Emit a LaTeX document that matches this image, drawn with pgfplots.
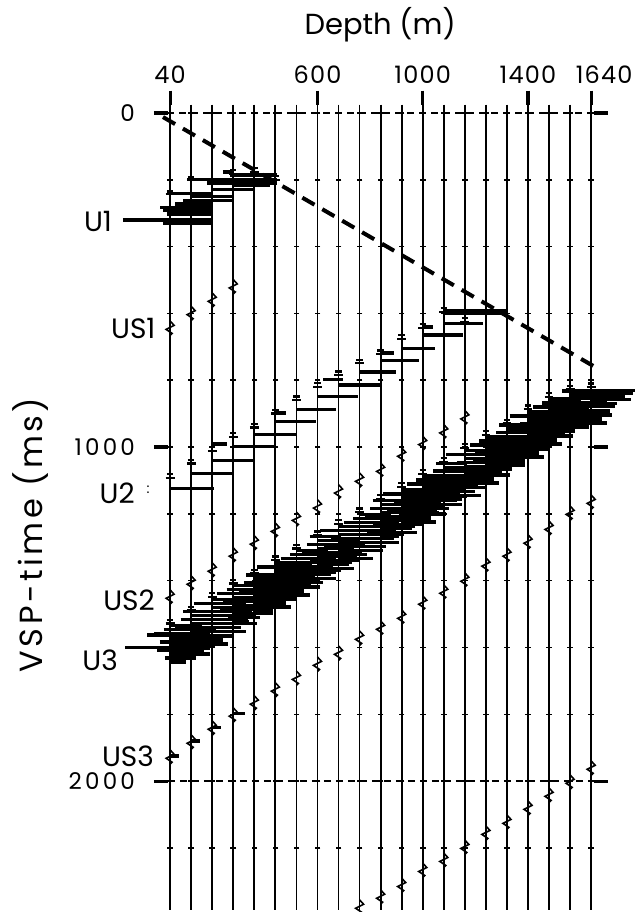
\documentclass[border=0pt]{standalone}
\usepackage{pgfplots}
\pgfplotsset{compat=1.18}
\usepackage{pgfplotstable}
\usepackage{fontspec}
\setmainfont{Poppins}
\newfontfamily\spacedfont[LetterSpace=11]{Poppins}
\newfontfamily\ytickfont[LetterSpace=14]{Poppins}
\newfontfamily\xtickfont[LetterSpace=5]{Poppins}

\pgfdeclareplotmark{zig}{%
  \pgfpathmoveto{\pgfqpoint{0pt}{3.6pt}}%
  \pgfpathlineto{\pgfqpoint{2pt}{1.4pt}}%
  \pgfpathlineto{\pgfqpoint{-2pt}{-0.6pt}}%
  \pgfpathlineto{\pgfqpoint{1pt}{-2.6pt}}%
  \pgfpathlineto{\pgfqpoint{0pt}{-3.6pt}}%
  \pgfusepathqstroke}
\pgfdeclareplotmark{onset}{%
  \pgfpathmoveto{\pgfqpoint{-2.2pt}{-0.9pt}}%
  \pgfpathlineto{\pgfqpoint{2.2pt}{-0.9pt}}%
  \pgfpathmoveto{\pgfqpoint{-1.6pt}{0.9pt}}%
  \pgfpathlineto{\pgfqpoint{1.6pt}{0.9pt}}%
  \pgfusepathqstroke}

% horizontal wiggle excursions: left end x (m), time t (ms), length (m)
\pgfplotstableread{
x t len
268 186 179
105 199 342
181 209 266
280 216 140
200 228 163
241 177 40
29 240 174
116 250 164
90 262 190
60 272 140
2 282 201
13 290 190
29 302 174
-139 320 342
13 330 190
}\uone

\pgfplotstableread{
x t len
40 1124 165
120 1079 158
200 1041 158
280 999 158
360 962 158
440 924 155
520 887 152
600 849 155
680 814 156
760 775 139
840 740 146
920 705 127
1000 665 152
1080 630 150
1080 593 245
1085 600 225
203 991 54
621 797 76
440 898 40
840 718 50
1000 640 40
40 1925 35
120 1880 32
200 1840 34
280 1798 45
}\utwo

\pgfplotstableread{
x t len
40 1535 120
15 1547 200
-20 1559 210
40 1571 165
0 1583 180
40 1595 170
-10 1607 180
40 1619 150
20 1631 120
40 1643 60
-131 1600 171
-47 1563 87
90 1493 120
120 1505 160
80 1516 220
120 1529 140
60 1540 230
120 1553 150
90 1565 190
120 1577 120
70 1589 190
120 1601 70
200 1457 140
130 1469 200
200 1481 185
170 1493 180
200 1505 165
145 1517 190
200 1529 170
165 1541 145
200 1553 130
180 1565 70
280 1415 120
255 1427 200
220 1439 210
280 1451 165
240 1463 180
280 1475 170
230 1487 180
280 1499 150
260 1511 120
280 1523 60
330 1383 120
360 1395 160
320 1406 220
360 1419 140
300 1430 230
360 1443 150
330 1455 190
360 1467 120
310 1479 190
360 1491 70
440 1347 140
370 1359 200
440 1371 185
410 1383 180
440 1395 165
385 1407 190
440 1419 170
405 1431 145
440 1443 130
420 1455 70
520 1310 120
495 1322 200
460 1334 210
520 1346 165
480 1358 180
520 1370 170
470 1382 180
520 1394 150
500 1406 120
520 1418 60
570 1268 120
600 1280 160
560 1291 220
600 1304 140
540 1315 230
600 1328 150
570 1340 190
600 1352 120
550 1364 190
600 1376 70
680 1238 140
610 1250 200
680 1262 185
650 1274 180
680 1286 165
625 1298 190
680 1310 170
645 1322 145
680 1334 130
660 1346 70
760 1201 120
735 1213 200
700 1225 210
760 1237 165
720 1249 180
760 1261 170
710 1273 180
760 1285 150
740 1297 120
760 1309 60
810 1160 120
840 1172 160
800 1183 220
840 1196 140
780 1207 230
840 1220 150
810 1232 190
840 1244 120
790 1256 190
840 1268 70
920 1128 140
850 1140 200
920 1152 185
890 1164 180
920 1176 165
865 1188 190
920 1200 170
885 1212 145
920 1224 130
900 1236 70
1000 1087 120
975 1099 200
940 1111 210
1000 1123 165
960 1135 180
1000 1147 170
950 1159 180
1000 1171 150
980 1183 120
1000 1195 60
1050 1049 120
1080 1061 160
1040 1072 220
1080 1085 140
1020 1096 230
1080 1109 150
1050 1121 190
1080 1133 120
1030 1145 190
1080 1157 70
1160 1011 140
1090 1023 200
1160 1035 185
1130 1047 180
1160 1059 165
1105 1071 190
1160 1083 170
1125 1095 145
1160 1107 130
1140 1119 70
1240 970 120
1215 982 200
1180 994 210
1240 1006 165
1200 1018 180
1240 1030 170
1190 1042 180
1240 1054 150
1220 1066 120
1240 1078 60
1290 934 120
1320 946 160
1280 957 220
1320 970 140
1260 981 230
1320 994 150
1290 1006 190
1320 1018 120
1270 1030 190
1320 1042 70
1400 895 140
1330 907 200
1400 919 185
1370 931 180
1400 943 165
1345 955 190
1400 967 170
1365 979 145
1400 991 130
1380 1003 70
1480 856 120
1455 868 200
1420 880 210
1480 892 165
1440 904 180
1480 916 170
1430 928 180
1480 940 150
1460 952 120
1480 964 60
1530 832 120
1560 844 160
1520 855 220
1560 868 140
1500 879 230
1560 892 150
1530 904 190
1560 916 120
1510 928 190
1640 831 165
1600 838 200
1580 850 190
1640 858 150
1620 869 120
}\band

\pgfplotstableread{
x t
40 238
120 196
200 206
280 176
360 170
440 195
40 1086
120 1044
200 1006
280 964
360 936
440 894
520 854
600 814
680 779
760 744
840 716
920 671
1000 637
1080 590
1160 620
40 1523
120 1483
200 1443
280 1403
360 1373
440 1333
520 1298
600 1258
680 1224
760 1189
840 1150
920 1114
1000 1075
1080 1039
1160 997
1240 958
1320 924
1400 881
1480 844
1560 822
1640 815
}\onsets

\pgfplotstableread{
x t
40 644
120 600
200 560
280 520
40 1449
120 1407
200 1368
280 1323
360 1287
440 1249
520 1216
600 1179
680 1134
760 1099
840 1069
920 1024
1000 989
1080 954
1160 912
40 1928
120 1883
200 1841
280 1802
360 1766
440 1727
520 1692
600 1650
680 1617
760 1572
840 1542
920 1509
1000 1467
1080 1434
1160 1398
1240 1353
1320 1323
1400 1284
1480 1243
1560 1198
1640 1165
760 2377
840 2347
920 2312
1000 2267
1080 2237
1160 2198
1240 2156
1320 2123
1400 2081
1480 2042
1560 2003
1640 1961
}\zigs

\begin{document}
\begin{tikzpicture}
\begin{axis}[
  scale only axis, width=212.9pt, height=402.5pt,
  xmin=32, xmax=1650, ymin=-25, ymax=2385,
  y dir=reverse,
  clip=false,
  axis line style={draw=none},
  xtick={40,600,1000,1400,1640},
  xticklabels={40,600,1000,1400,\hspace*{13pt}1640},
  xtick pos=right, xticklabel pos=right,
  ytick={0,1000,2000},
  yticklabels={0,1000,2000},
  ytick pos=both, yticklabel pos=left,
  tick align=outside,
  major tick length=7pt,
  tick style={line width=1.6pt, black},
  xticklabel style={font=\fontsize{12}{12}\xtickfont},
  yticklabel style={font=\fontsize{11.5}{12}\ytickfont, xshift=-6pt},
  bars/.style={draw=none, mark=none,
    error bars/.cd, x dir=plus, x explicit, error mark=none,
    error bar style={draw=black, line width=1.7pt}},
]
% traces
\pgfplotsinvokeforeach{40,120,...,1640}{
  \addplot[black, line width=0.9pt] coordinates {(#1,-25) (#1,2385)};
  \addplot[only marks, mark=-, mark size=1.4pt, mark options={line width=0.8pt}, black]
    coordinates {(#1,0)(#1,200)(#1,400)(#1,600)(#1,800)(#1,1000)(#1,1200)(#1,1400)(#1,1600)(#1,1800)(#1,2000)(#1,2200)};
}
% timing lines
\addplot[black, line width=0.7pt, dash pattern=on 3.5pt off 2.5pt] coordinates {(-17,0) (1674,0)};
\addplot[black, line width=0.7pt, dash pattern=on 3.5pt off 2.5pt] coordinates {(32,2000) (1650,2000)};
% events
\addplot[bars] table[x=x, y=t, x error=len] {\uone};
\addplot[bars] table[x=x, y=t, x error=len] {\utwo};
\addplot[bars] table[x=x, y=t, x error=len] {\band};
\addplot[only marks, mark=onset, mark options={line width=1.1pt}, black] table[x=x, y=t] {\onsets};
\addplot[only marks, mark=zig, mark options={line width=0.8pt}, black] table[x=x, y=t] {\zigs};
% first-break line
\addplot[black, line width=2pt, dash pattern=on 7pt off 4.5pt] coordinates {(13,12) (1674,769)};
% labels
\node[font=\fontsize{14.5}{15}\selectfont] at (axis cs:838,-263) {Depth (m)};
\node[rotate=90, font=\fontsize{16}{16}\spacedfont] at (axis cs:-492,1263) {VSP-time (ms)};
\node[font=\fontsize{14}{14}\selectfont] at (axis cs:-234,326) {U1};
\node[font=\fontsize{14}{14}\selectfont] at (axis cs:-100,645) {US1};
\node[font=\fontsize{14}{14}\selectfont] at (axis cs:-161,1138) {U2};
\node[font=\fontsize{7}{7}\selectfont] at (axis cs:-44,1129) {:};
\node[font=\fontsize{14}{14}\selectfont] at (axis cs:-116,1458) {US2};
\node[font=\fontsize{14}{14}\selectfont] at (axis cs:-226,1638) {U3};
\node[font=\fontsize{14}{14}\selectfont] at (axis cs:-120,1925) {US3};
\end{axis}
\pgfresetboundingbox
\path[use as bounding box] ([xshift=-84pt,yshift=52.35pt]current axis.north west) rectangle ([xshift=233.5pt,yshift=-403.65pt]current axis.north west);
\end{tikzpicture}
\end{document}
